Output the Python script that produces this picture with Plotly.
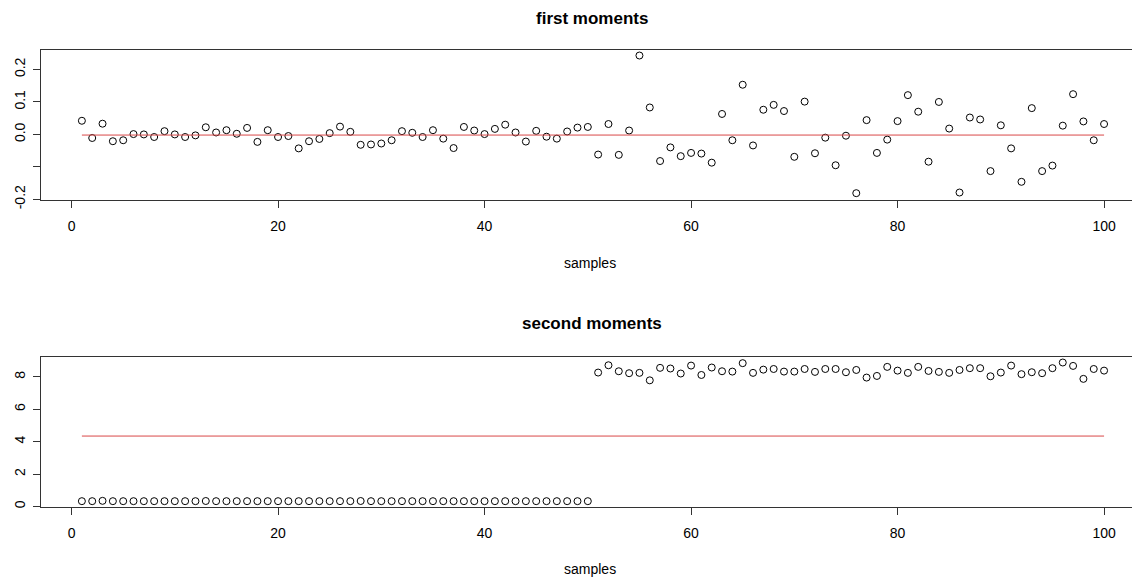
import plotly.graph_objects as go
from plotly.subplots import make_subplots

samples = list(range(1, 101))

first_moments = [
    0.042, -0.011, 0.033, -0.021, -0.018, 0.001, 0.000, -0.008, 0.010, 0.000,
    -0.008, -0.003, 0.022, 0.006, 0.013, 0.002, 0.020, -0.023, 0.013, -0.008,
    -0.005, -0.043, -0.021, -0.014, 0.004, 0.024, 0.008, -0.032, -0.031, -0.028,
    -0.018, 0.010, 0.005, -0.008, 0.013, -0.013, -0.042, 0.023, 0.012, 0.001,
    0.017, 0.030, 0.006, -0.022, 0.011, -0.007, -0.013, 0.009, 0.021, 0.023,
    -0.062, 0.032, -0.063, 0.012, 0.243, 0.083, -0.082, -0.040, -0.067, -0.057,
    -0.059, -0.087, 0.063, -0.018, 0.153, -0.034, 0.076, 0.091, 0.072, -0.069,
    0.101, -0.058, -0.010, -0.095, -0.004, -0.181, 0.044, -0.057, -0.016, 0.041,
    0.121, 0.070, -0.084, 0.100, 0.018, -0.179, 0.052, 0.046, -0.113, 0.028,
    -0.043, -0.146, 0.081, -0.113, -0.096, 0.027, 0.124, 0.040, -0.018, 0.032,
]

second_moments = [
    0.33, 0.33, 0.35, 0.33, 0.33, 0.33, 0.33, 0.33, 0.33, 0.33,
    0.33, 0.33, 0.34, 0.33, 0.33, 0.33, 0.33, 0.33, 0.33, 0.33,
    0.33, 0.33, 0.33, 0.33, 0.33, 0.33, 0.33, 0.34, 0.33, 0.33,
    0.33, 0.33, 0.33, 0.33, 0.33, 0.33, 0.33, 0.33, 0.33, 0.33,
    0.33, 0.33, 0.33, 0.33, 0.33, 0.33, 0.33, 0.33, 0.33, 0.33,
    8.27, 8.72, 8.35, 8.23, 8.25, 7.79, 8.56, 8.52, 8.21, 8.70,
    8.12, 8.58, 8.35, 8.33, 8.85, 8.25, 8.45, 8.49, 8.33, 8.33,
    8.49, 8.31, 8.49, 8.49, 8.29, 8.43, 7.96, 8.06, 8.62, 8.39,
    8.25, 8.62, 8.37, 8.31, 8.25, 8.43, 8.54, 8.54, 8.04, 8.27,
    8.70, 8.17, 8.29, 8.23, 8.54, 8.89, 8.68, 7.88, 8.49, 8.39,
]

first_mean = -0.002
second_mean = 4.35

first_yticks = [-0.2, -0.1, 0.0, 0.1, 0.2]
first_yticklabels = ["-0.2", "", "0.0", "0.1", "0.2"]
second_yticks = [0, 2, 4, 6, 8]
second_yticklabels = ["0", "2", "4", "6", "8"]
xticks = [0, 20, 40, 60, 80, 100]

# The page body has an 8px default margin; size the figure so it ends at the window edge.
OFF = 8
W, H = 1140 - OFF, 581 - OFF
FONT = "Liberation Sans, Arial, Helvetica, sans-serif"
RED = "#d94848"
AX = "#333333"

fig = make_subplots(rows=2, cols=1)

marker = dict(symbol="circle-open", size=7, color="black", line=dict(width=1, color="black"))

fig.add_trace(go.Scatter(x=samples, y=first_moments, mode="markers", marker=marker,
                         showlegend=False, hoverinfo="x+y"), row=1, col=1)
fig.add_trace(go.Scatter(x=[samples[0], samples[-1]], y=[first_mean, first_mean], mode="lines",
                         line=dict(color=RED, width=1), showlegend=False), row=1, col=1)
fig.add_trace(go.Scatter(x=samples, y=second_moments, mode="markers", marker=marker,
                         showlegend=False, hoverinfo="x+y"), row=2, col=1)
fig.add_trace(go.Scatter(x=[samples[0], samples[-1]], y=[second_mean, second_mean], mode="lines",
                         line=dict(color=RED, width=1), showlegend=False), row=2, col=1)

def py(p):
    """reference-page pixel row -> paper fraction"""
    return 1 - (p - OFF) / H

def px(p):
    """reference-page pixel column -> paper fraction"""
    return (p - OFF) / W

xcommon = dict(range=[-2.96, 103.48], tickvals=xticks, ticks="outside", ticklen=7,
               tickcolor=AX, tickwidth=1, showline=True, linecolor=AX, linewidth=1,
               mirror=True, showgrid=False, zeroline=False, automargin=False,
               ticklabelstandoff=6,
               tickfont=dict(family=FONT, size=14, color="black"),
               domain=[px(41), 1.0])
ycommon = dict(ticks="outside", ticklen=7, tickcolor=AX, tickwidth=1, showline=True,
               linecolor=AX, linewidth=1, mirror=False, showgrid=False, zeroline=False,
               automargin=False, tickangle=-90, ticklabelstandoff=2,
               tickfont=dict(family=FONT, size=14, color="black"))

fig.update_layout(
    xaxis=dict(**xcommon),
    xaxis2=dict(**xcommon),
    yaxis=dict(**ycommon, range=[-0.202, 0.26], tickvals=first_yticks,
               ticktext=first_yticklabels, domain=[py(200), py(50)]),
    yaxis2=dict(**ycommon, range=[-0.03, 9.23], tickvals=second_yticks,
                ticktext=second_yticklabels, domain=[py(507), py(357)]),
)

annotations = [
    ("<b>first moments</b>", 592, 8, 17, "top"),
    ("samples", 590, 263, 14, "middle"),
    ("<b>second moments</b>", 592, 323, 17, "middle"),
    ("samples", 590, 569, 14, "middle"),
]
for text, ax_, ay_, size, yanc in annotations:
    fig.add_annotation(xref="paper", yref="paper", showarrow=False, xanchor="center",
                       yanchor=yanc, text=text, x=px(ax_), y=py(ay_), borderpad=0,
                       font=dict(family=FONT, color="black", size=size))

fig.update_layout(
    width=W, height=H,
    margin=dict(l=0, r=0, t=0, b=0, autoexpand=False),
    paper_bgcolor="white", plot_bgcolor="white",
    font=dict(family=FONT, color="black"),
)

fig.write_html("out.html")
